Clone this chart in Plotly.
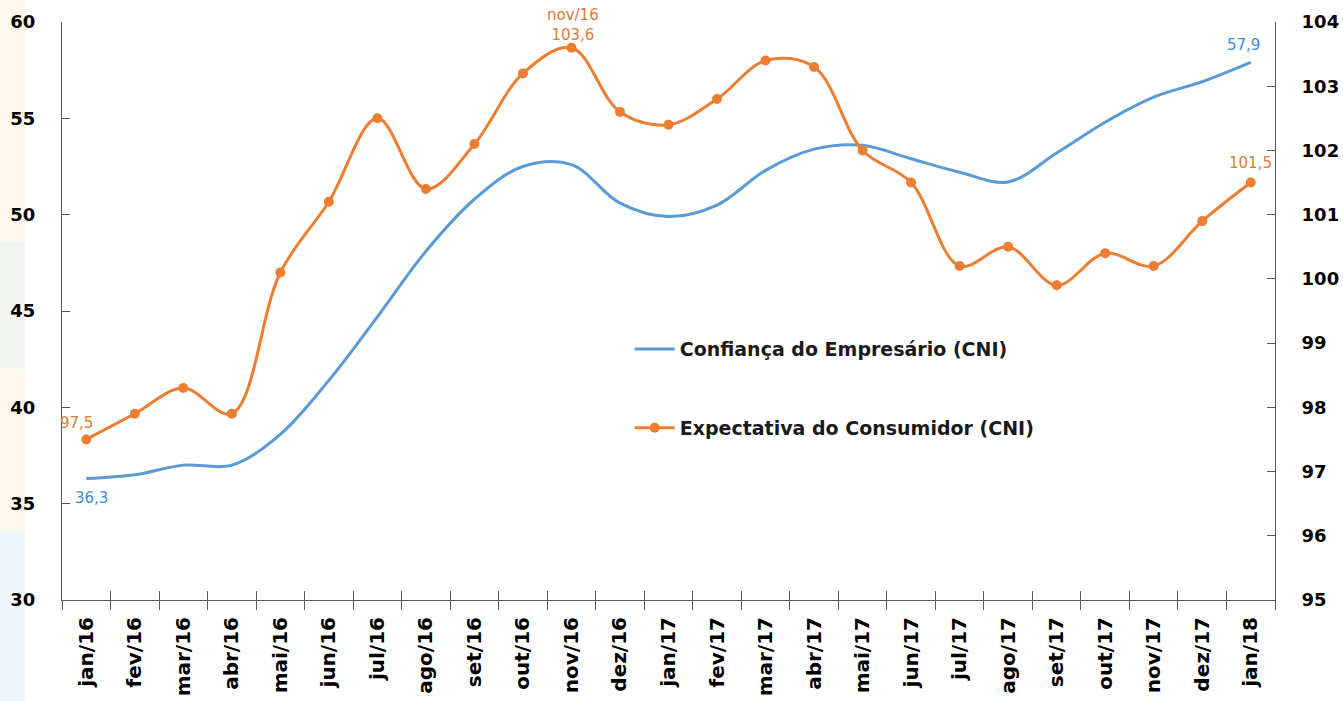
import plotly.graph_objects as go

months = ["jan/16", "fev/16", "mar/16", "abr/16", "mai/16", "jun/16", "jul/16", "ago/16",
          "set/16", "out/16", "nov/16", "dez/16", "jan/17", "fev/17", "mar/17", "abr/17",
          "mai/17", "jun/17", "jul/17", "ago/17", "set/17", "out/17", "nov/17", "dez/17", "jan/18"]

confianca = [36.3, 36.5, 37.0, 37.0, 38.6, 41.4, 44.7, 48.1, 50.8, 52.5, 52.6, 50.6, 49.9,
             50.5, 52.3, 53.4, 53.6, 52.9, 52.2, 51.7, 53.2, 54.8, 56.1, 56.9, 57.9]

expectativa = [97.5, 97.9, 98.3, 97.9, 100.1, 101.2, 102.5, 101.4, 102.1, 103.2, 103.6, 102.6,
               102.4, 102.8, 103.4, 103.3, 102.0, 101.5, 100.2, 100.5, 99.9, 100.4, 100.2, 100.9, 101.5]

left_ticks = [30, 35, 40, 45, 50, 55, 60]
right_ticks = [95, 96, 97, 98, 99, 100, 101, 102, 103, 104]

name_conf = "Confiança do Empresário (CNI)"
name_exp = "Expectativa do Consumidor (CNI)"

BLUE = "#5B9BD5"
ORANGE = "#ED7D31"
BLUE_TXT = "#3A8ED4"
ORANGE_TXT = "#DA7B38"
AXIS = "#595959"

fig = go.Figure()

fig.add_trace(go.Scatter(
    x=months, y=confianca, name=name_conf, mode="lines",
    line=dict(color=BLUE, width=3, shape="spline", smoothing=1.0),
    yaxis="y", xaxis="x", legend="legend"))

fig.add_trace(go.Scatter(
    x=months, y=expectativa, name=name_exp, mode="lines+markers",
    line=dict(color=ORANGE, width=3, shape="spline", smoothing=1.0),
    marker=dict(color=ORANGE, size=10),
    yaxis="y2", xaxis="x", legend="legend2"))

lab_font = dict(family="DejaVu Sans", size=15)

def fmt(v):
    return f"{v:.1f}".replace(".", ",")

annotations = [
    dict(x=months[0], y=confianca[0], xref="x", yref="y", text=fmt(confianca[0]),
         showarrow=False, xshift=5, yshift=-19, font=dict(color=BLUE_TXT, **lab_font)),
    dict(x=months[-1], y=confianca[-1], xref="x", yref="y", text=fmt(confianca[-1]),
         showarrow=False, xshift=-7, yshift=17, font=dict(color=BLUE_TXT, **lab_font)),
    dict(x=months[0], y=expectativa[0], xref="x", yref="y2", text=fmt(expectativa[0]),
         showarrow=False, xshift=-10, yshift=16, font=dict(color=ORANGE_TXT, **lab_font)),
    dict(x=months[10], y=expectativa[10], xref="x", yref="y2",
         text=months[10] + "<br>" + fmt(expectativa[10]),
         showarrow=False, xshift=2, yshift=23, font=dict(color=ORANGE_TXT, **lab_font)),
    dict(x=months[-1], y=expectativa[-1], xref="x", yref="y2", text=fmt(expectativa[-1]),
         showarrow=False, xshift=0, yshift=20, font=dict(color=ORANGE_TXT, **lab_font)),
]

# pale strip at the left edge (slide background)
shapes = [
    dict(type="rect", xref="paper", yref="paper", x0=-0.0515, x1=-0.0305, y0=0.62, y1=1.04,
         fillcolor="#FCF9EC", line=dict(width=0), layer="below"),
    dict(type="rect", xref="paper", yref="paper", x0=-0.0515, x1=-0.0305, y0=0.40, y1=0.62,
         fillcolor="#F1F6F2", line=dict(width=0), layer="below"),
    dict(type="rect", xref="paper", yref="paper", x0=-0.0515, x1=-0.0305, y0=0.12, y1=0.40,
         fillcolor="#FCF9EC", line=dict(width=0), layer="below"),
    dict(type="rect", xref="paper", yref="paper", x0=-0.0515, x1=-0.0305, y0=-0.18, y1=0.12,
         fillcolor="#F1F6FA", line=dict(width=0), layer="below"),
]

fig.update_layout(
    width=1343, height=701,
    margin=dict(l=62, r=68, t=22, b=101, autoexpand=False),
    paper_bgcolor="white", plot_bgcolor="white",
    font=dict(family="DejaVu Sans", color="black"),
    showlegend=True,
    annotations=annotations,
    shapes=shapes,
    xaxis=dict(
        type="category", categoryorder="array", categoryarray=months,
        range=[-0.5, len(months) - 0.5], automargin=False,
        tickson="boundaries", ticks="outside", ticklen=9, tickcolor=AXIS, tickwidth=1,
        showline=True, linecolor=AXIS, linewidth=1, showgrid=False, zeroline=False,
        tickangle=-90, ticklabelstandoff=8,
        tickfont=dict(family="DejaVu Sans", size=20, color="black", weight="bold"),
    ),
    xaxis2=dict(
        overlaying="x", anchor="y", side="bottom", type="linear",
        range=[-0.5, len(months) - 0.5], automargin=False,
        tickmode="array", tickvals=[i - 0.5 for i in range(len(months) + 1)],
        ticks="inside", ticklen=9, tickcolor=AXIS, tickwidth=1,
        showticklabels=False, showline=False, showgrid=False, zeroline=False,
    ),
    yaxis=dict(
        range=[30, 60], tickmode="array", tickvals=left_ticks, automargin=False,
        ticks="inside", ticklen=8, tickcolor=AXIS,
        showline=True, linecolor=AXIS, linewidth=1, showgrid=False, zeroline=False,
        ticklabelstandoff=22,
        tickfont=dict(family="DejaVu Sans", size=18, color="black", weight="bold"),
    ),
    yaxis2=dict(
        range=[95, 104], tickmode="array", tickvals=right_ticks, automargin=False,
        overlaying="y", side="right", anchor="x",
        ticks="inside", ticklen=8, tickcolor=AXIS,
        showline=True, linecolor=AXIS, linewidth=1, showgrid=False, zeroline=False,
        ticklabelstandoff=22,
        tickfont=dict(family="DejaVu Sans", size=18, color="black", weight="bold"),
    ),
    legend=dict(
        x=0.468, y=0.434, xanchor="left", yanchor="middle",
        bgcolor="rgba(0,0,0,0)", itemwidth=40,
        font=dict(family="DejaVu Sans", size=19, color="#1a1a1a", weight="bold"),
    ),
    legend2=dict(
        x=0.468, y=0.2976, xanchor="left", yanchor="middle",
        bgcolor="rgba(0,0,0,0)", itemwidth=40,
        font=dict(family="DejaVu Sans", size=19, color="#1a1a1a", weight="bold"),
    ),
)

# dummy trace to activate xaxis2 (no visible marks)
fig.add_trace(go.Scatter(x=[None], y=[None], xaxis="x2", yaxis="y", showlegend=False,
                         hoverinfo="skip"))

fig.write_html("out.html", config={"displayModeBar": False},
               post_script="document.body.style.margin='0px';document.body.style.overflow='hidden';")
